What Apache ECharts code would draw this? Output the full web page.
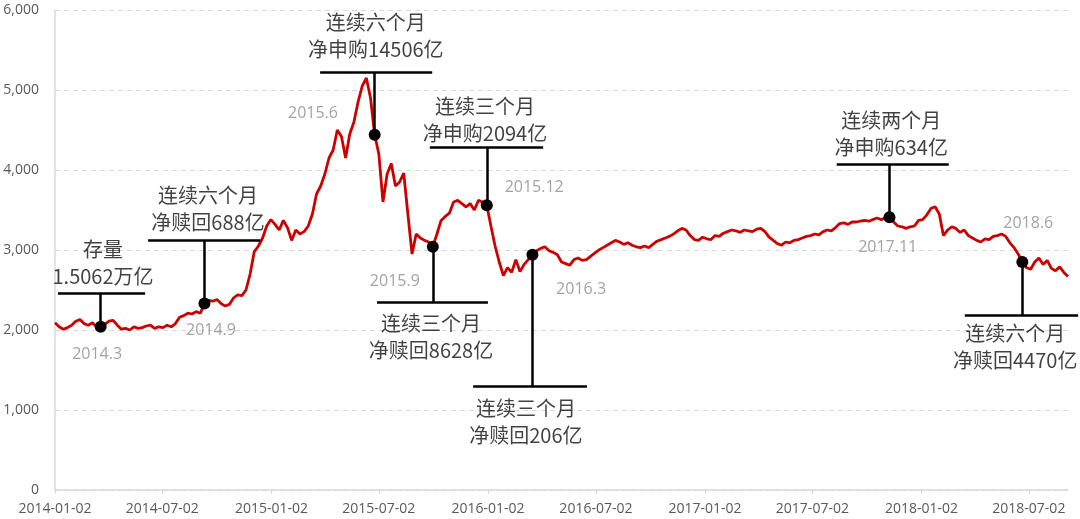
<!DOCTYPE html>
<html>
<head>
<meta charset="utf-8">
<script src="https://cdn.jsdelivr.net/npm/echarts@6/dist/echarts.min.js"></script>
<style>
html,body{margin:0;padding:0;background:#fff;}
#chart{width:1080px;height:519px;}
</style>
</head>
<body>
<div id="chart"></div>
<script>
// Weekly index values starting 2014-01-02 (one value every 7 calendar days)
const startDate = '2014-01-02';
const weeklyValues = [
2090,2040,2010,2030,2060,2110,2130,2080,2060,2090,
2040,2040,2070,2110,2120,2060,2010,2020,2000,2040,
2020,2030,2050,2060,2020,2040,2030,2060,2040,2080,
2160,2180,2210,2200,2230,2210,2330,2370,2360,2380,
2330,2300,2320,2400,2440,2430,2500,2700,2980,3050,
3150,3300,3380,3320,3250,3370,3280,3120,3250,3200,
3230,3300,3450,3700,3800,3950,4150,4250,4500,4420,
4150,4450,4600,4850,5050,5150,4900,4440,4200,3600,
3950,4080,3800,3850,3960,3450,2950,3200,3150,3120,
3100,3040,3200,3370,3420,3460,3600,3620,3580,3540,
3580,3500,3620,3600,3560,3300,3050,2850,2680,2780,
2720,2880,2730,2820,2880,2940,2990,3020,3040,2990,
2970,2940,2850,2830,2810,2880,2900,2870,2880,2920,
2960,3000,3030,3060,3090,3120,3100,3070,3090,3060,
3040,3030,3050,3030,3070,3110,3130,3150,3170,3200,
3240,3270,3250,3180,3130,3120,3160,3140,3130,3180,
3170,3210,3230,3250,3240,3220,3250,3240,3230,3260,
3270,3230,3160,3120,3080,3060,3100,3090,3120,3130,
3150,3170,3180,3200,3190,3230,3250,3240,3280,3330,
3340,3320,3350,3350,3360,3370,3360,3380,3400,3380,
3400,3410,3350,3300,3290,3270,3290,3300,3370,3380,
3440,3520,3540,3450,3180,3250,3290,3270,3220,3250,
3180,3150,3120,3100,3140,3130,3170,3180,3200,3170,
3090,3030,2950,2850,2780,2760,2850,2900,2820,2870,
2770,2740,2790,2720,2670
];
const tickLabels = ['2014-01-02','2014-07-02','2015-01-02','2015-07-02','2016-01-02',
  '2016-07-02','2017-01-02','2017-07-02','2018-01-02','2018-07-02'];
const yTicks = {min: 0, max: 6000, interval: 1000};

// Annotations: which weekly point is marked, and texts
const annWeeks = [11, 36, 77, 91, 104, 115, 201, 233];
const annTexts = ['存量\n1.5062万亿', '连续六个月\n净赎回688亿', '连续六个月\n净申购14506亿',
  '连续三个月\n净赎回8628亿', '连续三个月\n净申购2094亿', '连续三个月\n净赎回206亿',
  '连续两个月\n净申购634亿', '连续六个月\n净赎回4470亿'];
const annDates = ['2014.3', '2014.9', '2015.6', '2015.9', '2015.12', '2016.3', '2017.11', '2018.6'];

// Annotation layout (data coordinates: [day index, value])
const barLevel = [2462, 3125, 5225, 2350, 4287, 1300, 4075, 2187];
const barSpan = [[5,152],[157,346],[447,636],[543,730],[632,823],[705,897],[1318,1507],[1534,1725]];
const textPos = [[81,2844],[258,3519],[541,5675],[634,1919],[725,4631],[794,850],[1410,4456],[1619,1787]];
const datePos = [[71,1700],[263,2000],[435,4712],[573,2612],[808,3787],[887,2512],[1404,3037],[1641,3337]];

// build calendar-day categories
const STEP = 7;
const nDays = STEP * (weeklyValues.length - 1) + 1;
const days = [];
const t0 = Date.parse(startDate + 'T00:00:00Z');
for (let i = 0; i < nDays; i++) {
  days.push(new Date(t0 + i * 86400000).toISOString().slice(0, 10));
}
const tickSet = new Set(tickLabels);
const lineData = weeklyValues.map((v, i) => [i * STEP, v]);
const dotData = annWeeks.map(w => [w * STEP, weeklyValues[w]]);

const chart = echarts.init(document.getElementById('chart'), null, {renderer: 'canvas'});

function buildSegs() {
  const segs = [];
  annWeeks.forEach((w, k) => {
    segs.push([{coord: [w * STEP, weeklyValues[w]]}, {coord: [w * STEP, barLevel[k]]}]);
    const a = barSpan[k][0], b = barSpan[k][1];
    if (b <= nDays - 1) {
      segs.push([{coord: [a, barLevel[k]]}, {coord: [b, barLevel[k]]}]);
    } else {
      // the bar runs past the last category: resolve its ends to pixels via the axes
      const p1 = chart.convertToPixel({gridIndex: 0}, [a, barLevel[k]]);
      const p2 = chart.convertToPixel({gridIndex: 0}, [b, barLevel[k]]);
      segs.push([{x: p1[0], y: p1[1]}, {x: p2[0], y: p2[1]}]);
    }
  });
  return segs;
}

const option = {
  animation: false,
  backgroundColor: '#ffffff',
  grid: {left: 55, right: 12, top: 10, bottom: 29, containLabel: false},
  xAxis: {
    type: 'category',
    data: days,
    boundaryGap: false,
    axisLine: {show: true, lineStyle: {color: '#d9d9d9', width: 1.5}},
    axisTick: {show: true, length: 4, interval: (i, v) => tickSet.has(v), lineStyle: {color: '#d9d9d9'}},
    axisLabel: {
      interval: (i, v) => tickSet.has(v),
      color: '#595959', fontSize: 14, fontFamily: 'Open Sans', margin: 12
    },
    splitLine: {show: false}
  },
  yAxis: {
    type: 'value',
    min: yTicks.min, max: yTicks.max, interval: yTicks.interval,
    axisLine: {show: true, lineStyle: {color: '#d9d9d9', width: 1.5}},
    axisTick: {show: false},
    axisLabel: {
      color: '#595959', fontSize: 14, fontFamily: 'Open Sans', margin: 16,
      formatter: v => v.toLocaleString('en-US')
    },
    splitLine: {show: true, lineStyle: {color: '#d9d9d9', type: [5, 4], width: 1}}
  },
  series: [
    {
      type: 'line',
      data: lineData,
      showSymbol: false,
      symbol: 'none',
      lineStyle: {color: '#cc0000', width: 2.8},
      z: 3
    },
    {
      id: 'dots',
      type: 'scatter',
      data: dotData,
      symbol: 'circle',
      symbolSize: 12,
      itemStyle: {color: '#000', opacity: 1},
      z: 5,
      markLine: {
        silent: true,
        symbol: ['none', 'none'],
        lineStyle: {color: '#000', width: 2.5, type: 'solid', opacity: 1},
        label: {show: false},
        data: [],
        z: 4
      }
    },
    {
      type: 'scatter',
      data: annTexts.map((t, k) => ({value: textPos[k], label: {formatter: t}})),
      symbolSize: 1,
      itemStyle: {color: 'rgba(0,0,0,0)'},
      label: {
        show: true, position: 'inside', color: '#111',
        fontSize: 20, lineHeight: 27, fontFamily: 'Noto Sans CJK SC', align: 'center'
      },
      z: 6
    },
    {
      type: 'scatter',
      data: annDates.map((t, k) => ({value: datePos[k], label: {formatter: t}})),
      symbolSize: 1,
      itemStyle: {color: 'rgba(0,0,0,0)'},
      label: {
        show: true, position: 'inside', color: '#8c8c8c',
        fontSize: 16, fontFamily: 'Open Sans'
      },
      z: 6
    }
  ]
};
chart.setOption(option);
chart.setOption({series: [{id: 'dots', markLine: {data: buildSegs()}}]});
</script>
</body>
</html>
